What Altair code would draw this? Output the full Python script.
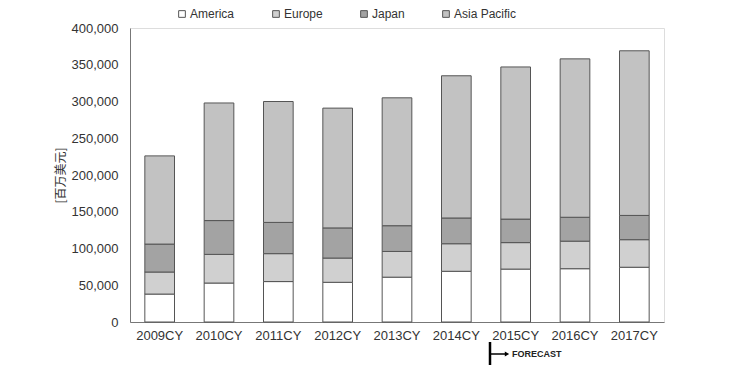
import altair as alt
import pandas as pd

years = ["2009CY", "2010CY", "2011CY", "2012CY", "2013CY", "2014CY", "2015CY", "2016CY", "2017CY"]
regions = ["America", "Europe", "Japan", "Asia Pacific"]
america = [38000, 53000, 55000, 54000, 61000, 69000, 72000, 72500, 74500]
europe = [30000, 39000, 38000, 33000, 35000, 37500, 36000, 37500, 37500]
japan = [38000, 46000, 42500, 41000, 35000, 35000, 32000, 32500, 33000]
asia_pacific = [120000, 160000, 164500, 163000, 174000, 193500, 207000, 215500, 224000]
y_ticks = [0, 50000, 100000, 150000, 200000, 250000, 300000, 350000, 400000]
colors = ["#ffffff", "#d0d0d0", "#a3a3a3", "#c2c2c2"]

series = [america, europe, japan, asia_pacific]
rows = []
for ri, (name, vals) in enumerate(zip(regions, series)):
    for y, v in zip(years, vals):
        rows.append({"year": y, "region": name, "value": v, "ord": ri})
df = pd.DataFrame(rows)

FONT = "Liberation Sans"

bars = alt.Chart(df).mark_bar(stroke="#555555", strokeWidth=1).encode(
    x=alt.X("year:N", sort=years, title=None,
            scale=alt.Scale(paddingInner=0.5, paddingOuter=0.25),
            axis=alt.Axis(labelAngle=0, labelFontSize=13, labelPadding=7, tickSize=0,
                          labelColor="#333333", domainColor="#777777", labelFont=FONT)),
    y=alt.Y("value:Q", stack="zero",
            scale=alt.Scale(domain=[0, 400000], nice=False),
            axis=alt.Axis(values=y_ticks, format=",.0f", labelFontSize=13, labelPadding=12,
                          tickSize=0, grid=False, labelColor="#333333", labelFont=FONT,
                          domainColor="#777777",
                          title="[百万美元]", titleFont="Noto Sans CJK SC", titleFontSize=12,
                          titleFontWeight="normal", titleColor="#333333",
                          titleX=-70, titleY=147, titleAngle=270, titleAlign="center",
                          titleBaseline="middle")),
    color=alt.Color("region:N", sort=regions,
                    scale=alt.Scale(domain=regions, range=colors),
                    legend=alt.Legend(orient="none", legendX=46, legendY=-20,
                                      direction="horizontal", title=None,
                                      symbolType="square", symbolSize=45,
                                      symbolStrokeColor="#555555", symbolStrokeWidth=1,
                                      labelFontSize=12, labelFont=FONT, labelColor="#333333",
                                      labelOffset=2, columnPadding=35)),
    order=alt.Order("ord:Q", sort="ascending"),
)

one = alt.Data(values=[{"k": 0}])

vline = alt.Chart(one).mark_rule(color="#000000", strokeWidth=2.5).encode(
    x=alt.value(360), y=alt.value(314), y2=alt.value(337))
hline = alt.Chart(one).mark_rule(color="#000000", strokeWidth=1.5).encode(
    x=alt.value(360), x2=alt.value(376), y=alt.value(326))
arrow = alt.Chart(one).mark_point(shape="triangle-right", filled=True, color="#000000",
                                  size=25, opacity=1).encode(
    x=alt.value(377), y=alt.value(326))
ftext = alt.Chart(one).mark_text(text="FORECAST", fontSize=9, fontWeight="bold",
                                 font=FONT, align="left", baseline="middle",
                                 color="#222222").encode(
    x=alt.value(382), y=alt.value(326))

chart = alt.layer(bars, vline, hline, arrow, ftext).properties(
    width=534, height=294,
    autosize=alt.AutoSizeParams(type="none"),
    padding={"left": 122, "top": 20, "right": 57, "bottom": 53},
).configure_view(stroke="#888888", strokeWidth=1).configure(background="white")

chart.save("out.html", embed_options={"renderer": "svg", "actions": False})
